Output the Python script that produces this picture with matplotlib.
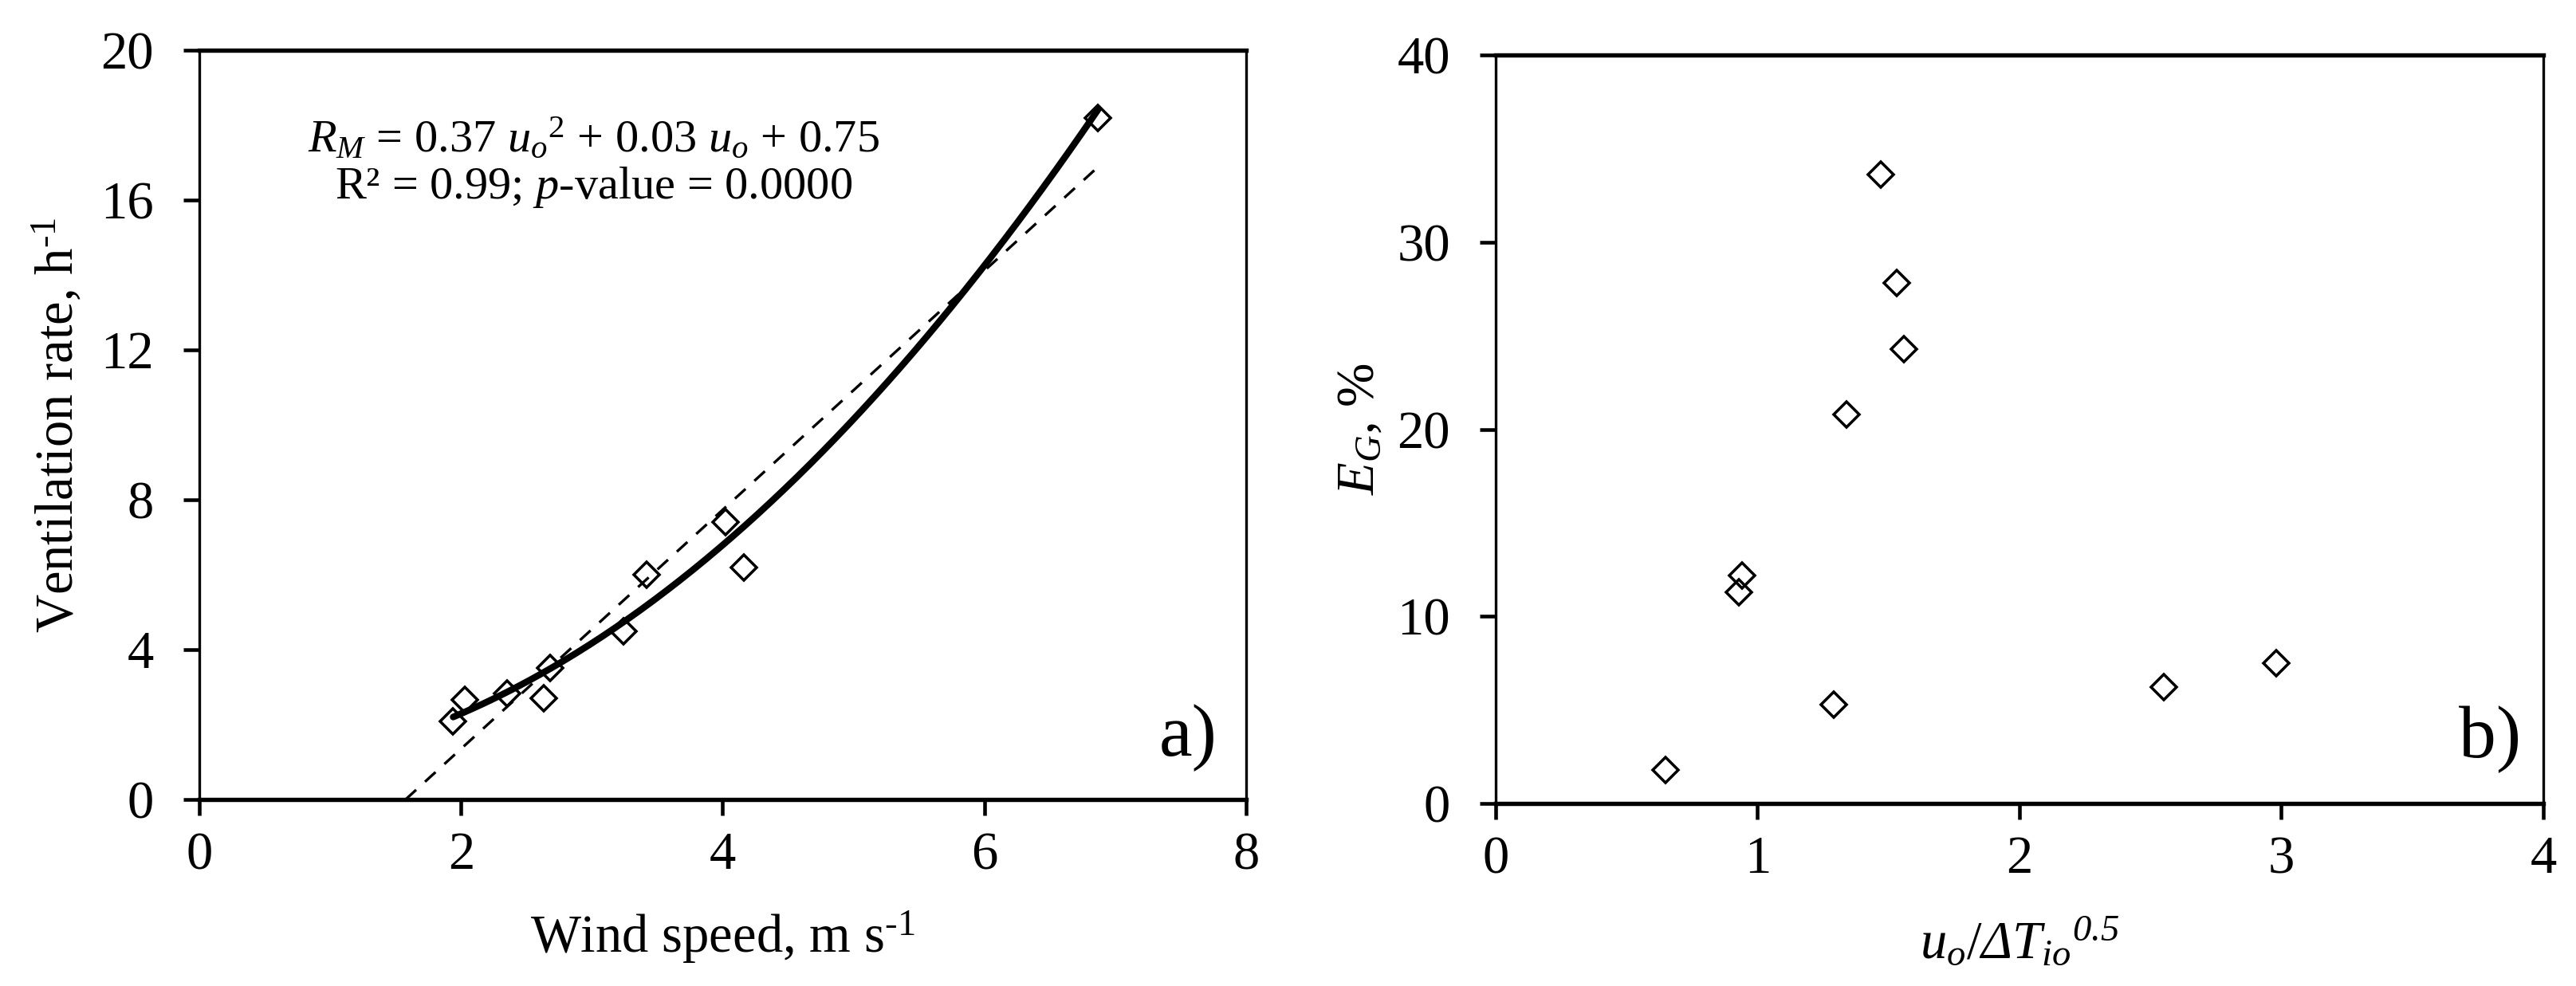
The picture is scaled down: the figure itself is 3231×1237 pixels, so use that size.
import numpy as np
import matplotlib
matplotlib.use("Agg")
import matplotlib.pyplot as plt

# a) ventilation rate against wind speed
wind_speed = [1.94, 2.03, 2.35, 2.63, 2.68, 3.24, 3.42, 4.02, 4.16, 6.87]
vent_rate = [2.09, 2.66, 2.83, 2.70, 3.51, 4.49, 6.00, 7.40, 6.19, 18.2]
quad_coef = [0.37, 0.03, 0.75]   # R_M = 0.37 u^2 + 0.03 u + 0.75

# b) E_G against u_o / dT^0.5
uo_ratio = [0.65, 0.94, 0.93, 1.29, 1.34, 1.47, 1.53, 1.56, 2.55, 2.98]
eg_pct = [1.8, 12.2, 11.3, 5.3, 20.8, 33.6, 27.8, 24.3, 6.2, 7.5]

xticks_a = [0, 2, 4, 6, 8]
yticks_a = [0, 4, 8, 12, 16, 20]
xticks_b = [0, 1, 2, 3, 4]
yticks_b = [0, 10, 20, 30, 40]

plt.rcParams["font.family"] = "Liberation Serif"
plt.rcParams["mathtext.fontset"] = "custom"
plt.rcParams["mathtext.rm"] = "Liberation Serif"
plt.rcParams["mathtext.it"] = "Liberation Serif:italic"
plt.rcParams["mathtext.bf"] = "Liberation Serif:bold"
# 'it' forces digits and capital greek upright, so sf is used for italic ones
plt.rcParams["mathtext.sf"] = "Liberation Serif:italic"
plt.rcParams["lines.scale_dashes"] = False


def style_axes(ax):
    for side in ("left", "right"):
        ax.spines[side].set_linewidth(0.8)
    for side in ("top", "bottom"):
        ax.spines[side].set_linewidth(1.3)
    ax.tick_params(direction="out", length=4.7, width=1.1, labelsize=16)
    ax.tick_params(axis="x", pad=5)
    ax.tick_params(axis="y", pad=9)


fig = plt.figure(figsize=(3231 / 300, 1237 / 300), dpi=300)
ax1 = fig.add_axes([0.0774, 0.1892, 0.4063, 0.7599])
ax2 = fig.add_axes([0.5806, 0.1851, 0.4067, 0.7591])

# ---- panel a
xs = np.linspace(min(wind_speed), max(wind_speed), 200)
ax1.plot(xs, np.polyval(quad_coef, xs), color="black", linewidth=2.0,
         solid_capstyle="round", zorder=3)

slope, icpt = np.polyfit(wind_speed, vent_rate, 1)
xl = np.array([-icpt / slope, max(wind_speed)])
ax1.plot(xl, slope * xl + icpt, color="black", linewidth=0.8,
         dashes=(4.3, 3.6), zorder=2)

ax1.plot(wind_speed, vent_rate, linestyle="none", marker="D", markersize=5.3,
         markerfacecolor="none", markeredgecolor="black", markeredgewidth=0.85,
         zorder=4)

ax1.set_xlim(0, 8)
ax1.set_ylim(0, 20)
ax1.set_xticks(xticks_a)
ax1.set_yticks(yticks_a)
style_axes(ax1)

ax1.set_xlabel(r"Wind speed, m s$^{\text{-1}}$", fontsize=16)
ax1.set_ylabel(r"Ventilation rate, h$^{\text{-1}}$", fontsize=16)
ax1.xaxis.set_label_coords(0.5, -0.146)
ax1.yaxis.set_label_coords(-0.110, 0.5)

ax1.text(0.377, 0.865, r"$R_M$ = 0.37 $u_o{}^{2}$ + 0.03 $u_o$ + 0.75",
         transform=ax1.transAxes, ha="center", va="baseline", fontsize=14)
ax1.text(0.377, 0.802, r"R² = 0.99; $p$-value = 0.0000",
         transform=ax1.transAxes, ha="center", va="baseline", fontsize=14)
ax1.text(0.9726, 0.0585, "a)", transform=ax1.transAxes, ha="right",
         va="baseline", fontsize=22.5)

# ---- panel b
ax2.plot(uo_ratio, eg_pct, linestyle="none", marker="D", markersize=5.3,
         markerfacecolor="none", markeredgecolor="black", markeredgewidth=0.85)

ax2.set_xlim(0, 4)
ax2.set_ylim(0, 40)
ax2.set_xticks(xticks_b)
ax2.set_yticks(yticks_b)
style_axes(ax2)

ax2.set_xlabel(r"$u_o/\mathsf{Δ}T_{io}{}^{\mathsf{0.5}}$", fontsize=16)
ax2.set_ylabel(r"$E_G$, %", fontsize=16)
ax2.xaxis.set_label_coords(0.5, -0.151)
ax2.yaxis.set_label_coords(-0.106, 0.5)

ax2.text(0.9787, 0.0618, "b)", transform=ax2.transAxes, ha="right",
         va="baseline", fontsize=22.5)

plt.savefig("out.png", dpi=300)
